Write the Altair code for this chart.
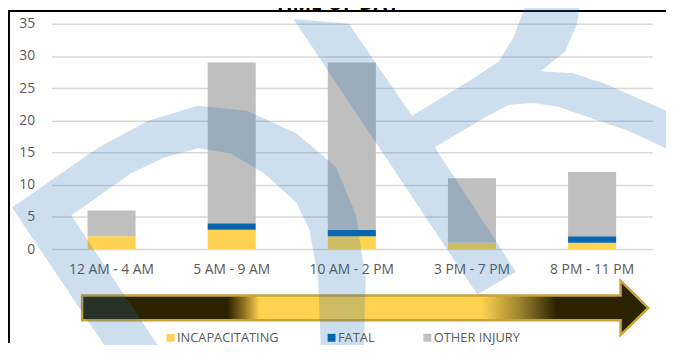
import altair as alt
import pandas as pd

# ---------------- data ----------------
categories = ["12 AM - 4 AM", "5 AM - 9 AM", "10 AM - 2 PM", "3 PM - 7 PM", "8 PM - 11 PM"]
incapacitating = [2, 3, 2, 1, 1]
fatal = [0, 1, 1, 0, 1]
other_injury = [4, 25, 26, 10, 10]
series_names = ["INCAPACITATING", "FATAL", "OTHER INJURY"]
series_colors = ["#FFD34F", "#0764AE", "#BFBFBF"]
y_ticks = [0, 5, 10, 15, 20, 25, 30, 35]
title_text = "TIME OF DAY"

rows = []
for k, (name, vals) in enumerate(zip(series_names, [incapacitating, fatal, other_injury])):
    for c, v in zip(categories, vals):
        rows.append({"period": c, "series": name, "count": v, "stack_order": k})
df = pd.DataFrame(rows)

# ---------------- layout ----------------
W, H = 608, 228
OX, OY = 52, 22          # page position of plot origin (8px page margin + padding)
PAD = {"left": 44, "top": 14, "right": 14, "bottom": 95}
FONT = "Open Sans"
LABEL_COLOR = "#595959"


def feat(points):
    ring = [[x - OX, y - OY] for x, y in points]
    ring.append(ring[0])
    return {"type": "Feature", "properties": {},
            "geometry": {"type": "Polygon", "coordinates": [ring]}}


proj = dict(type="identity", scale=1, translate=[0, 0])

y_scale = alt.Scale(domain=[0, 35], nice=False)
x_scale = alt.Scale(paddingInner=0.6, paddingOuter=0.3)

bars = alt.Chart(df).mark_bar().encode(
    x=alt.X("period:N", sort=categories, scale=x_scale,
            axis=alt.Axis(title=None, labelAngle=0, domain=False, ticks=False, tickSize=0,
                          grid=False, labelPadding=14, labelFont=FONT, labelFontSize=14,
                          labelColor=LABEL_COLOR)),
    y=alt.Y("count:Q", stack="zero", scale=y_scale,
            axis=alt.Axis(title=None, values=y_ticks, domain=False, ticks=False, tickSize=0,
                          grid=True, gridColor="#D9D9D9", gridWidth=1.5,
                          labelPadding=17, labelFont=FONT, labelFontSize=14,
                          labelColor=LABEL_COLOR)),
    color=alt.Color("series:N",
                    scale=alt.Scale(domain=series_names, range=series_colors),
                    legend=alt.Legend(title=None, orient="none", legendX=114, legendY=311,
                                      direction="horizontal", columns=3, symbolType="square",
                                      symbolSize=64, symbolStrokeWidth=0, labelFont=FONT,
                                      labelFontSize=13, labelColor=LABEL_COLOR, labelOffset=0,
                                      columnPadding=46, padding=0)),
    order=alt.Order("stack_order:Q", sort="ascending"),
)

one = alt.Data(values=[{"t": title_text}])

frame_left = alt.Chart(one).mark_rule(color="black", strokeWidth=2).encode(
    x=alt.value(9 - OX), y=alt.value(8 - OY), y2=alt.value(345 - OY))
frame_top = alt.Chart(one).mark_rule(color="black", strokeWidth=2).encode(
    x=alt.value(8 - OX), x2=alt.value(674 - OX), y=alt.value(9 - OY))

title = alt.Chart(one).mark_text(
    font=FONT, fontSize=20, fontWeight="bold", color="black",
    align="center", baseline="alphabetic"
).encode(x=alt.value(341 - OX), y=alt.value(8 - OY), text="t:N")

# gradient arrow (decoration)
arrow_pts = [(83, 297), (628, 297), (628, 282), (656, 309.5), (628, 337), (628, 322), (83, 322)]
arrow_fill = alt.Gradient(
    gradient="linear", x1=0, x2=1, y1=0, y2=0,
    stops=[
        alt.GradientStop(color="#2B2300", offset=0),
        alt.GradientStop(color="#2B2300", offset=0.257),
        alt.GradientStop(color="#8C7020", offset=0.285),
        alt.GradientStop(color="#FFD34F", offset=0.314),
        alt.GradientStop(color="#FFD34F", offset=0.705),
        alt.GradientStop(color="#A08530", offset=0.772),
        alt.GradientStop(color="#2B2300", offset=0.838),
        alt.GradientStop(color="#2B2300", offset=1),
    ],
)
arrow = alt.Chart(alt.Data(values=[feat(arrow_pts)])).mark_geoshape(
    fill=arrow_fill, stroke="#C9A33C", strokeWidth=2.5, clip=False
).project(**proj)

# light-blue watermark (decoration)
wm_a = [(12, 208), (100, 147), (150, 120), (200, 105), (250, 110), (300, 133), (340, 167),
        (360, 215), (370, 280), (368, 360), (325, 360), (322, 280), (313, 230), (300, 203),
        (267, 173), (233, 153), (200, 148), (167, 157), (133, 173), (72, 216), (168, 360),
        (114, 360)]
wm_b = [(297, 17), (353, 22), (417, 115), (470, 83), (505, 60), (520, 35), (533, 0), (587, 0),
        (584, 22), (572, 50), (547, 70), (580, 72), (613, 83), (674, 110), (674, 148),
        (635, 130), (597, 117), (565, 106), (540, 102), (515, 104), (490, 117), (440, 147),
        (522, 273), (483, 296)]
watermark = alt.Chart(alt.Data(values=[feat(wm_a), feat(wm_b)])).mark_geoshape(
    fill="#1A6FB0", fillOpacity=0.22, strokeWidth=0, clip=False
).project(**proj)

chart = alt.layer(bars, frame_left, frame_top, title, arrow, watermark).properties(
    width=W, height=H,
    autosize=alt.AutoSizeParams(type="none"),
    padding=PAD,
    background="white",
).configure_view(stroke=None)

chart.save("out.html", embed_options={"renderer": "svg", "actions": False})
